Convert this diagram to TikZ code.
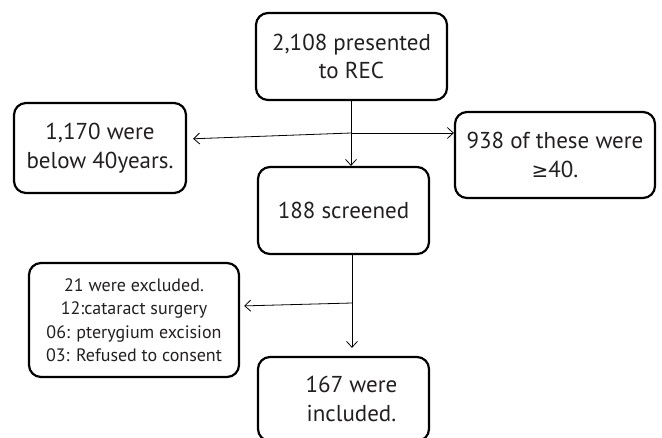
\documentclass[tikz,border=0pt]{standalone}
\usepackage{fontspec}
\setmainfont{PT Sans}
\newfontfamily\symbfont{DejaVu Sans}
\usetikzlibrary{arrows.meta,calc}
\definecolor{ink}{RGB}{35,31,32}

\begin{document}
\begin{tikzpicture}[x=1pt, y=-1pt,
  box/.style={draw=black, line width=2.2pt, rounded corners=12pt, align=center,
    text=ink, inner sep=0pt, font=\fontsize{23}{28.5}\selectfont},
  link/.style={draw=black, line width=0.8pt, -{Straight Barb[length=6pt,width=11pt]}}]
\useasboundingbox (0,0) rectangle (662,437);
\clip (0,0) rectangle (662,437);
% ---- top: referrals split by age
\node[box, minimum width=191, minimum height=87] (rec) at (351.5,56.5)
  {2,108 presented\\to REC};
\node[box, minimum width=172, minimum height=90] (below) at (100,148)
  {1,170 were\\below 40years.};
\node[box, minimum width=200, minimum height=86] (above) at (555,155)
  {938 of these were\\{\symbfont\fontsize{20}{28.5}\selectfont ≥}40.};
\node[box, minimum width=171, minimum height=87] (scr) at (343.5,210.5)
  {188 screened};
\coordinate (split) at (351,133);
\draw[line width=0.8pt] (rec.south -| split) -- (split);
\draw[link] (split) -- (split |- scr.north);
\draw[link, shorten >=6pt] (split) -- (below.east |- 0,139);
\draw[link] (split) -- (above.west |- split);
% ---- bottom: exclusions
\node[box, minimum width=210, minimum height=114,
  font=\fontsize{18}{23.5}\selectfont] (excl) at (134,320)
  {21 were excluded.\\12:cataract surgery\\06: pterygium excision\\03: Refused to consent};
\node[box, minimum width=171, minimum height=84] (incl) at (343.5,399)
  {\hspace{16pt}167 were\\\hspace{16pt}included.};
\coordinate (drop) at (352,303);
\draw[line width=0.8pt] (scr.south -| drop) -- (drop);
\draw[link, shorten >=8pt] (drop) -- (drop |- incl.north);
\draw[link, shorten >=4pt] (drop) -- (excl.east |- 0,306);
\end{tikzpicture}
\end{document}
